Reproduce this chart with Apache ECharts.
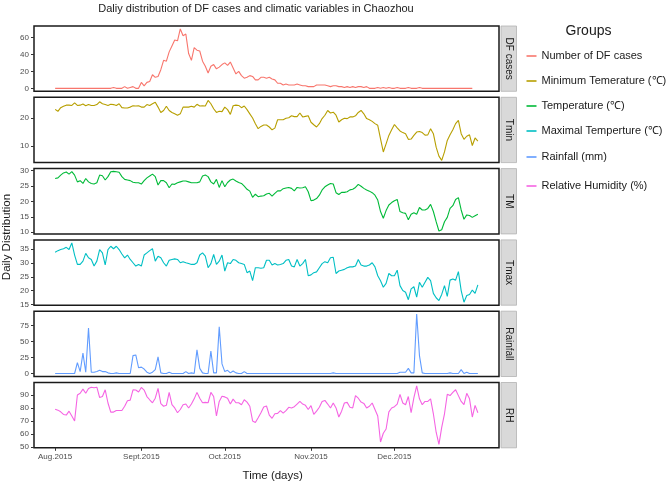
<!DOCTYPE html>
<html>
<head>
<meta charset="utf-8">
<script src="https://cdn.jsdelivr.net/npm/echarts@6/dist/echarts.min.js"></script>
<style>html,body{margin:0;padding:0;background:#fff}#c{width:666px;height:484px}</style>
</head>
<body>
<div id="c"></div>
<script>
// ---- data (daily, 1 Aug 2015 .. 31 Dec 2015; x = day index from 1 Aug) ----
const panelLabels = ['DF cases','Tmin','TM','Tmax','Rainfall','RH'];
const seriesNames = ['Number of DF cases','Minimum Temerature (\u2103)','Temperature (\u2103)','Maximal Temperture (\u2103)','Rainfall (mm)','Relative Humidity (%)'];
const seriesColors = ['#F8766D','#B79F00','#00BA38','#00BFC4','#619CFF','#F564E3'];
const xTickDays = [0,31,61,92,122];
const xTickLabels = ['Aug.2015','Sept.2015','Oct.2015','Nov.2015','Dec.2015'];

const dfCases = [0,0,0,0,0,0,0,0,0,0,0,0,0,0,0,0,0,0,0,0,0,
  1,0,0,0,2,0,1,2,0,0,7,3,7,8,16,13,14,22,33,32,43,50,57,56,70,62,64,41,33,48,45,44,32,26,18,26,28,23,25,28,
  30,27,31,24,17,20,15,12,13,15,14,10,10,13,13,12,13,11,10,6,6,4,5,4,4,4,5,4,3,3,
  2,2,2,4,4,4,4,3,2,3,3,2,2,1,2,1,2,1,2,2,1,2,0,0,0,1,0,1,0,1,0,
  0,1,0,0,0,1,0,0,0,1,0,0,0,0,0,0,0,0,0,0,0,0,0,0,0,0,0,0,0];
const tmin = [23.1,22.4,23.7,24.2,24.6,24.6,24.5,25.4,24.5,24.6,25.0,24.4,24.8,24.5,24.5,24.8,25.8,25.1,24.8,24.5,24.9,24.8,24.5,25.1,23.7,23.6,23.6,23.9,24.4,24.3,24.4,
  23.9,23.9,24.8,24.5,25.1,25.6,23.9,22.0,22.7,24.2,22.7,22.0,21.5,21.0,21.5,23.9,23.9,23.9,24.2,23.9,24.9,24.3,24.4,24.3,26.3,25.1,23.3,22.0,22.4,22.3,
  23.9,23.0,21.3,24.4,24.6,24.5,23.7,24.3,23.0,21.5,20.0,18.0,16.2,17.0,17.5,17.5,16.8,15.8,16.4,19.4,19.4,19.4,19.9,20.1,20.8,20.5,20.5,21.8,20.4,20.6,20.8,
  18.5,17.6,16.8,18.0,19.8,21.0,22.7,21.8,22.1,21.0,18.6,19.4,19.9,19.8,20.4,20.4,20.8,22.0,22.7,21.5,19.8,19.4,18.8,18.0,17.4,12.6,7.9,10.8,13.8,15.8,
  17.7,16.5,15.4,14.8,14.4,12.4,12.5,13.8,15.0,15.2,14.8,13.9,14.0,16.2,14.4,9.6,6.4,4.9,7.9,12.0,14.0,15.8,18.0,19.2,14.4,12.4,13.5,14.0,10.2,12.9,11.8];
const tmean = [27.4,27.6,28.5,29.2,29.5,28.8,29.6,28.5,26.3,26.7,25.8,27.4,26.3,25.8,25.6,26.0,28.5,28.3,26.9,28.0,29.6,29.7,29.6,29.4,28.0,27.1,26.9,26.7,26.2,26.0,26.0,
  25.6,26.7,27.6,28.2,28.8,28.0,25.3,26.7,26.7,26.0,24.4,25.6,25.5,26.0,26.3,26.6,26.6,26.3,26.0,26.0,26.0,26.3,28.2,28.5,28.0,26.3,25.6,27.1,24.5,26.7,
  24.7,26.1,26.9,27.2,26.6,26.1,25.8,24.9,23.9,23.3,21.3,22.3,21.5,21.7,21.8,22.4,22.6,21.7,22.6,23.4,23.4,24.1,24.3,24.5,24.2,23.4,24.5,24.3,24.4,24.7,23.1,
  20.2,20.4,20.9,22.0,23.7,24.7,25.3,25.8,25.6,22.8,22.2,22.9,22.9,23.1,23.7,23.9,24.5,25.5,24.9,24.2,23.7,23.3,22.8,22.0,20.4,16.7,14.5,17.0,18.8,19.6,
  20.2,20.6,16.7,16.3,16.1,14.0,15.8,16.3,15.8,18.0,17.2,17.2,17.7,19.0,16.7,13.4,10.4,10.8,13.4,14.8,17.7,18.6,20.6,21.2,17.2,14.2,15.6,15.4,14.8,15.3,15.8];
const tmax = [33.9,34.5,34.9,35.2,35.7,34.9,37.3,32.9,29.5,29.5,30.7,33.5,31.9,31.3,28.9,30.7,34.9,33.7,29.3,34.9,36.1,35.2,36.1,34.9,33.3,31.9,32.9,31.3,30.1,28.9,29.5,
  28.9,32.9,33.7,34.5,35.2,30.7,32.5,31.9,30.1,28.9,31.0,31.3,31.5,31.3,30.1,30.5,30.1,29.8,29.5,29.5,30.1,32.9,33.7,32.5,28.3,29.8,33.1,29.5,30.7,32.9,
  27.1,30.1,29.8,31.3,31.0,30.1,29.8,29.5,26.5,27.1,23.6,28.3,28.3,28.1,28.3,31.0,31.0,29.3,29.8,29.3,29.5,29.8,31.0,31.3,28.9,28.6,31.3,28.9,29.8,31.3,25.4,
  25.7,26.5,26.8,28.3,29.8,30.5,30.1,31.9,32.1,26.2,27.1,27.4,27.7,28.3,28.6,28.6,28.9,31.3,29.3,28.9,28.9,29.3,30.1,28.6,25.4,23.6,21.2,22.6,26.2,25.4,
  25.4,27.4,21.8,20.0,19.4,16.7,20.6,21.4,17.6,23.0,21.2,23.0,24.8,23.6,19.0,17.4,16.4,18.6,21.8,17.9,23.8,24.2,23.8,26.9,20.0,15.8,18.2,18.6,20.2,19.0,22.1];
const rainfall = [0,0,0,0,0,0,0,0,17,3,32,2,71,2,2,3,5,3,3,1,0,0,1,0,0,0,0,0,28,29,9,
  10,7,2,0,2,6,26,1,0,0,2,0,0,0,0,0,3,0,1,0,37,8,1,0,0,35,1,1,73,15,
  3,5,1,4,1,0,0,3,0,0,0,0,0,0,0,0,0,0,0,0,0,0,0,0,0,0,0,0,0,0,0,
  0,0,0,0,0,0,0,0,1,0,0,0,0,0,0,0,0,0,0,0,0,0,0,0,0,0,0,0,0,0,
  0,0,2,2,2,8,1,1,93,28,1,0,0,0,0,0,0,0,0,0,1,0,0,0,6,0,2,0,0,0,0];
const humidity = [79,78.3,77,75,74.5,77.5,73.8,70,90,91.3,94.5,91.3,95,96,95.5,96,88,88.8,94,83.8,76.8,76.8,78,78,78,81.3,85.5,86,94,93.8,92.3,
  95.8,93.8,88.8,86.3,84,87.5,95,83.3,81.3,82,92,82.5,80,76.3,78.8,82.5,83,80,83,87,92,87.5,84,84.3,84,92,88.8,73.8,85,89,
  88.5,87.5,83,86.8,84,84,82.5,86.3,84.5,81.3,70,68.8,72.5,76.3,80.8,81.5,74.5,72,75.5,75.8,78,76,78,80.5,80,81,83,85,83,82,78.8,
  81.8,75,77.5,80.5,85,85.8,83,80,83.8,80,73,77.5,83.8,84.3,80.5,80,89.5,87.5,84.5,83.5,80,81.3,83.8,78.8,73.8,53.8,60.5,63.8,77,80,
  81,83,90.5,83.8,82.5,88.8,76.3,88,97,87,82.5,85,85,87,75.5,61.3,52,65,75.5,90.5,89.5,92,94,89.5,85,82.5,91.3,87,73,82,76.3];

const allData = [dfCases, tmin, tmean, tmax, rainfall, humidity];
const yLimits = [[-3.5,73.5],[4.1,27.4],[9.45,30.6],[14.7,38.4],[-4.7,97.5],[49.3,99.6]];
const yTicks = [[0,20,40,60],[10,20],[10,15,20,25,30],[15,20,25,30,35],[0,25,50,75],[50,60,70,80,90]];

// ---- layout ----
const FONT = '"Liberation Sans", Arial, Helvetica, sans-serif';
const LEFT = 34, PW = 465, TOP0 = 26, STEP = 71.3, PH = 65.3;
const legendY = [55, 80, 105, 130, 156, 185];

const grids = [], xAxes = [], yAxes = [], series = [], graphics = [], legends = [];
allData.forEach((vals, i) => {
  const top = TOP0 + i * STEP;
  const last = i === allData.length - 1;
  grids.push({left: LEFT, top: top, width: PW, height: PH, show: true, borderColor: '#1a1a1a', borderWidth: 1.5, backgroundColor: '#fff', containLabel: false});
  xAxes.push({
    type: 'value', gridIndex: i, min: -7.6, max: 159.6, position: 'bottom',
    axisLine: {show: false, onZero: false}, splitLine: {show: false},
    axisTick: {show: last, length: 3, lineStyle: {color: '#333', width: 1}, customValues: xTickDays},
    axisLabel: {show: last, customValues: xTickDays, fontSize: 8, color: '#4D4D4D', fontFamily: FONT, margin: 5,
      formatter: v => { const k = xTickDays.indexOf(Math.round(v)); return k >= 0 ? xTickLabels[k] : ''; }}
  });
  yAxes.push({
    type: 'value', gridIndex: i, min: yLimits[i][0], max: yLimits[i][1], position: 'left',
    axisLine: {show: false, onZero: false}, splitLine: {show: false},
    axisTick: {show: true, length: 3, lineStyle: {color: '#333', width: 1}, customValues: yTicks[i]},
    axisLabel: {customValues: yTicks[i], fontSize: 8, color: '#4D4D4D', fontFamily: FONT, margin: 5}
  });
  series.push({
    type: 'line', name: seriesNames[i], xAxisIndex: i, yAxisIndex: i,
    data: vals.map((v, d) => [d, v]), showSymbol: false, symbol: 'none',
    lineStyle: {width: 1.1, color: seriesColors[i]}, itemStyle: {color: seriesColors[i]},
    animation: false, silent: true
  });
  graphics.push({type: 'rect', shape: {x: 501, y: top, width: 15.5, height: PH},
    style: {fill: '#D9D9D9', stroke: '#B3B3B3', lineWidth: 0.8}});
  graphics.push({type: 'text', x: 508.8, y: top + PH / 2, rotation: -Math.PI / 2,
    style: {text: panelLabels[i], fill: '#1A1A1A', font: '10px ' + FONT, align: 'center', verticalAlign: 'middle'}});
  legends.push({data: [seriesNames[i]], orient: 'vertical', left: 526.5, top: legendY[i] - 6, padding: 0,
    icon: 'rect', itemWidth: 10, itemHeight: 1.6, itemGap: 4, selectedMode: false,
    textStyle: {fontSize: 11, color: '#1A1A1A', fontFamily: FONT, lineHeight: 14}});
});

graphics.push({type: 'text', x: 256, y: 9, style: {text: 'Daliy distribution of DF cases and climatic variables in Chaozhou', fill: '#1A1A1A', font: '11px ' + FONT, align: 'center', verticalAlign: 'middle'}});
graphics.push({type: 'text', x: 7, y: 237, rotation: Math.PI / 2, style: {text: 'Daily Distribution', fill: '#1A1A1A', font: '11.5px ' + FONT, align: 'center', verticalAlign: 'middle'}});
graphics.push({type: 'text', x: 272.7, y: 476, style: {text: 'Time (days)', fill: '#1A1A1A', font: '11.5px ' + FONT, align: 'center', verticalAlign: 'middle'}});
graphics.push({type: 'text', x: 588.5, y: 31, style: {text: 'Groups', fill: '#1A1A1A', font: '14px ' + FONT, align: 'center', verticalAlign: 'middle'}});

const chart = echarts.init(document.getElementById('c'), null, {renderer: 'canvas'});
chart.setOption({
  animation: false,
  backgroundColor: '#fff',
  grid: grids, xAxis: xAxes, yAxis: yAxes, series: series,
  legend: legends,
  graphic: {elements: graphics}
});
</script>
</body>
</html>
